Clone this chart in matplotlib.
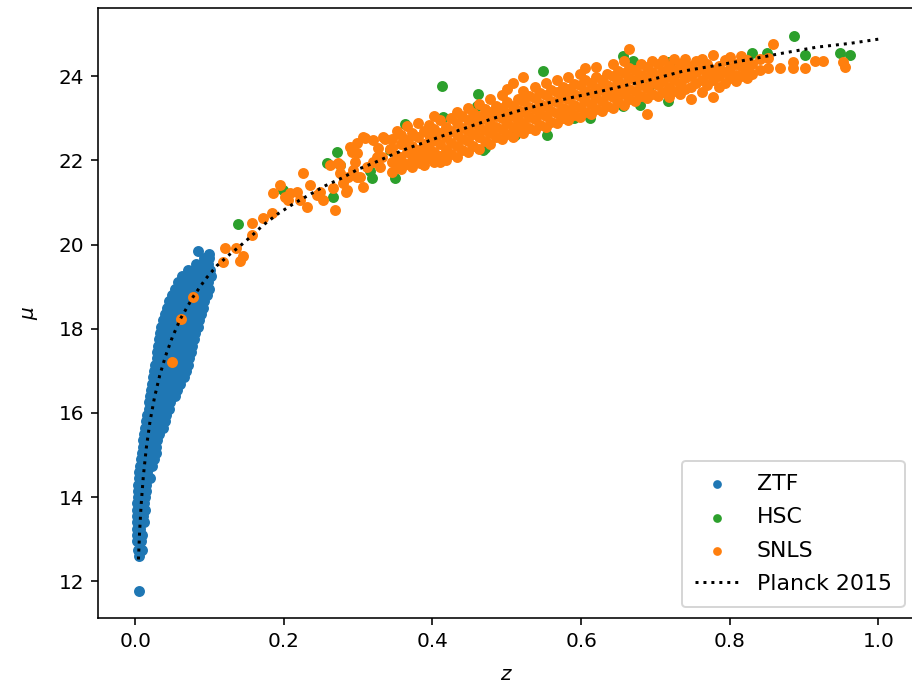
import matplotlib
matplotlib.use("Agg")
import matplotlib.pyplot as plt

# ZTF: low-z sample, one row of redshifts per distance-modulus level
ztf_row_mu = [19.85, 19.78, 19.68, 19.55, 19.40, 19.25, 19.10, 18.95, 18.80, 18.65,
              18.50, 18.35, 18.20, 18.05, 17.90, 17.75, 17.60, 17.45, 17.30, 17.15,
              17.00, 16.85, 16.70, 16.55, 16.40, 16.25, 16.10, 15.95, 15.80, 15.65,
              15.50, 15.35, 15.20, 15.05, 14.90, 14.75, 14.60, 14.45, 14.30, 14.15,
              14.00, 13.85, 13.70, 13.55, 13.40, 13.25, 13.10, 12.95, 12.75, 12.60,
              11.78]
ztf_row_z = [
    [0.085],
    [0.100],
    [0.093, 0.099],
    [0.082, 0.090, 0.098],
    [0.071, 0.079, 0.087, 0.095, 0.101],
    [0.063, 0.071, 0.079, 0.087, 0.095, 0.102],
    [0.058, 0.066, 0.074, 0.082, 0.090, 0.098],
    [0.054, 0.062, 0.070, 0.078, 0.086, 0.094, 0.100],
    [0.050, 0.058, 0.066, 0.074, 0.082, 0.090, 0.097],
    [0.046, 0.054, 0.062, 0.070, 0.078, 0.086, 0.093],
    [0.043, 0.051, 0.059, 0.067, 0.075, 0.083, 0.091],
    [0.040, 0.048, 0.056, 0.064, 0.072, 0.080, 0.089],
    [0.037, 0.045, 0.053, 0.061, 0.069, 0.077, 0.086],
    [0.035, 0.043, 0.051, 0.059, 0.067, 0.075, 0.084],
    [0.033, 0.041, 0.049, 0.057, 0.065, 0.073, 0.081],
    [0.032, 0.040, 0.048, 0.056, 0.064, 0.071, 0.079],
    [0.031, 0.039, 0.047, 0.055, 0.063, 0.070, 0.077],
    [0.030, 0.038, 0.046, 0.054, 0.062, 0.069, 0.075],
    [0.029, 0.037, 0.045, 0.053, 0.061, 0.069, 0.073],
    [0.027, 0.035, 0.043, 0.051, 0.059, 0.066, 0.071],
    [0.026, 0.034, 0.042, 0.050, 0.058, 0.064, 0.069],
    [0.024, 0.032, 0.040, 0.048, 0.055, 0.062, 0.066],
    [0.023, 0.031, 0.039, 0.046, 0.053, 0.060],
    [0.021, 0.029, 0.037, 0.044, 0.051, 0.056],
    [0.020, 0.028, 0.036, 0.043, 0.050, 0.053],
    [0.019, 0.026, 0.034, 0.041, 0.047],
    [0.018, 0.025, 0.032, 0.039, 0.045],
    [0.016, 0.023, 0.030, 0.037, 0.042],
    [0.015, 0.022, 0.029, 0.036, 0.040],
    [0.013, 0.020, 0.027, 0.034, 0.038],
    [0.012, 0.019, 0.026, 0.032],
    [0.011, 0.017, 0.024, 0.030],
    [0.010, 0.016, 0.022, 0.028],
    [0.009, 0.015, 0.021, 0.028],
    [0.008, 0.014, 0.020, 0.025],
    [0.007, 0.012, 0.018, 0.023],
    [0.005, 0.010, 0.016],
    [0.005, 0.010, 0.015, 0.020],
    [0.004, 0.009, 0.014],
    [0.004, 0.009, 0.014],
    [0.004, 0.008, 0.013],
    [0.003, 0.008, 0.012],
    [0.003, 0.007, 0.013],
    [0.003, 0.007, 0.011],
    [0.003, 0.008, 0.012],
    [0.002, 0.007],
    [0.003, 0.009],
    [0.003, 0.008],
    [0.004, 0.009],
    [0.005],
    [0.005],
]

# HSC
hsc_z = [0.139, 0.199, 0.272, 0.258, 0.266, 0.316, 0.319, 0.343, 0.350, 0.413,
         0.549, 0.656, 0.670, 0.718, 0.461, 0.460, 0.363, 0.414, 0.511, 0.554,
         0.591, 0.612, 0.468, 0.656, 0.679, 0.689, 0.887, 0.901, 0.948, 0.962,
         0.830, 0.850, 0.720, 0.693, 0.276, 0.471, 0.717]
hsc_mu = [20.48, 21.30, 22.19, 21.94, 21.13, 21.75, 21.58, 22.25, 21.58, 23.76,
          24.12, 24.48, 24.36, 24.34, 23.57, 23.29, 22.86, 23.03, 22.60, 22.60,
          23.00, 23.00, 22.24, 23.29, 23.31, 23.76, 24.95, 24.50, 24.55, 24.50,
          24.55, 24.55, 24.34, 23.79, 21.90, 22.30, 23.40]

# SNLS: loose points
snls_z = [0.050, 0.061, 0.078,
          0.118, 0.121, 0.136, 0.141, 0.145, 0.157, 0.157, 0.172, 0.184, 0.186,
          0.195, 0.202, 0.208, 0.218, 0.226, 0.222, 0.235, 0.231, 0.245, 0.253,
          0.249, 0.269, 0.266, 0.273, 0.280, 0.285, 0.276, 0.289, 0.298, 0.298,
          0.307, 0.307, 0.293, 0.303, 0.312, 0.320, 0.325, 0.334, 0.330, 0.206,
          0.276, 0.283, 0.287, 0.292, 0.296, 0.298, 0.309, 0.320, 0.327, 0.332,
          0.336, 0.343, 0.352, 0.356, 0.363, 0.373, 0.374, 0.383, 0.386, 0.397,
          0.400, 0.410, 0.407, 0.262]
snls_mu = [17.20, 18.24, 18.76,
           19.59, 19.92, 19.92, 19.62, 19.73, 20.52, 20.23, 20.64, 20.75, 21.23,
           21.42, 21.13, 21.23, 21.25, 21.70, 21.06, 21.42, 20.90, 21.18, 21.06,
           21.25, 20.83, 21.35, 21.94, 21.47, 21.30, 21.70, 22.32, 22.18, 22.42,
           22.56, 21.37, 21.77, 21.61, 21.85, 22.49, 22.08, 22.56, 21.85, 21.06,
           21.89, 21.25, 21.60, 22.20, 21.95, 21.60, 22.53, 21.96, 22.30, 22.08,
           22.50, 22.28, 21.85, 22.08, 22.42, 21.96, 22.60, 21.94, 22.30, 22.18,
           22.45, 21.96, 22.62, 21.90]

# SNLS: dense band, one column of distance moduli per redshift
snls_col_z = [0.345, 0.352, 0.358, 0.366, 0.372, 0.380, 0.388, 0.395, 0.402, 0.410,
              0.418, 0.425, 0.433, 0.440, 0.448, 0.455, 0.463, 0.470, 0.478, 0.485,
              0.493, 0.500, 0.508, 0.515, 0.522, 0.530, 0.538, 0.545, 0.553, 0.560,
              0.568, 0.575, 0.583, 0.590, 0.598, 0.605, 0.613, 0.620, 0.628, 0.635,
              0.643, 0.650, 0.658, 0.665, 0.673, 0.680, 0.688, 0.695, 0.703, 0.710,
              0.718, 0.725, 0.733, 0.740, 0.748, 0.755, 0.763, 0.770, 0.778, 0.785,
              0.793, 0.800, 0.808, 0.815, 0.823, 0.830, 0.841, 0.851, 0.858, 0.868,
              0.885, 0.901, 0.915, 0.925, 0.952, 0.955]
snls_col_mu = [
    [21.72, 21.95, 22.30, 22.52], [22.10, 22.70], [21.80, 22.02, 22.40, 22.60],
    [21.92, 22.20, 22.48, 22.82], [21.85, 22.10, 22.35, 22.65],
    [22.00, 22.25, 22.55, 22.90], [21.90, 22.15, 22.40, 22.70],
    [22.05, 22.30, 22.60, 22.85], [21.95, 22.20, 22.50, 22.75, 23.05],
    [22.10, 22.38, 22.65, 22.95], [22.00, 22.25, 22.55, 22.80],
    [22.15, 22.42, 22.70, 23.00], [22.08, 22.35, 22.60, 22.88, 23.15],
    [22.25, 22.50, 22.78, 23.05], [22.20, 22.45, 22.70, 22.95, 23.25],
    [22.35, 22.62, 22.88, 23.12], [22.28, 22.55, 22.80, 23.05, 23.35],
    [22.45, 22.72, 22.98, 23.22], [22.40, 22.65, 22.90, 23.15, 23.45],
    [22.55, 22.80, 23.05, 23.30], [22.50, 22.75, 23.00, 23.25, 23.55],
    [22.62, 22.88, 23.12, 23.38, 23.70], [22.55, 22.80, 23.05, 23.30, 23.83],
    [22.70, 22.95, 23.20, 23.45], [22.65, 22.90, 23.15, 23.40, 23.65, 23.98],
    [22.78, 23.02, 23.28, 23.52], [22.72, 22.98, 23.22, 23.48, 23.75],
    [22.85, 23.10, 23.35, 23.60], [22.80, 23.05, 23.30, 23.55, 23.85],
    [22.92, 23.18, 23.42, 23.68], [22.88, 23.12, 23.38, 23.62, 23.90],
    [23.00, 23.25, 23.50, 23.75], [22.95, 23.20, 23.45, 23.70, 23.98],
    [23.08, 23.32, 23.58, 23.82], [23.02, 23.28, 23.52, 23.78, 24.05],
    [23.15, 23.40, 23.65, 23.90, 24.19], [23.10, 23.35, 23.60, 23.85],
    [23.22, 23.48, 23.72, 23.98, 24.22], [23.18, 23.42, 23.68, 23.92],
    [23.30, 23.55, 23.80, 24.05], [23.25, 23.50, 23.75, 24.00, 24.28],
    [23.38, 23.62, 23.88, 24.12], [23.32, 23.58, 23.82, 24.08, 24.35],
    [23.45, 23.70, 23.95, 24.20, 24.64], [23.40, 23.65, 23.90, 24.15],
    [23.52, 23.78, 24.02, 24.28], [23.10, 23.48, 23.72, 23.98, 24.22],
    [23.58, 23.85, 24.10, 24.35], [23.52, 23.78, 24.02, 24.28],
    [23.62, 23.88, 24.12, 24.38], [23.50, 23.75, 24.00, 24.25],
    [23.65, 23.90, 24.15, 24.40], [23.58, 23.82, 24.08, 24.30],
    [23.70, 23.95, 24.20, 24.42], [23.45, 23.75, 24.00, 24.25],
    [23.85, 24.10, 24.35], [23.62, 23.92, 24.18, 24.40], [23.80, 24.05, 24.30],
    [23.50, 23.90, 24.15, 24.50], [23.75, 24.00, 24.25], [23.85, 24.10, 24.38],
    [23.95, 24.20, 24.45], [23.88, 24.02, 24.30], [24.00, 24.25, 24.48],
    [23.95, 24.15, 24.38], [24.05, 24.30], [24.14, 24.40], [24.20, 24.43],
    [24.76], [24.19], [24.19, 24.33], [24.19], [24.36], [24.36], [24.33], [24.21],
]

# Planck 2015 distance modulus curve
planck_z = [0.0044, 0.006, 0.008, 0.011, 0.015, 0.020, 0.026, 0.033, 0.041, 0.050,
            0.061, 0.078, 0.095, 0.110, 0.128, 0.140, 0.155, 0.172, 0.192, 0.213,
            0.234, 0.256, 0.278, 0.300, 0.321, 0.344, 0.367, 0.390, 0.413, 0.448,
            0.482, 0.518, 0.554, 0.589, 0.626, 0.662, 0.697, 0.737, 0.783, 0.827,
            0.872, 0.917, 0.962, 1.000]
planck_mu = [12.52, 13.19, 13.81, 14.50, 15.17, 15.80, 16.37, 16.89, 17.36, 17.80,
             18.24, 18.76, 19.19, 19.50, 19.78, 19.95, 20.18, 20.46, 20.73, 20.97,
             21.18, 21.40, 21.58, 21.79, 21.94, 22.12, 22.29, 22.43, 22.58, 22.79,
             23.00, 23.19, 23.36, 23.50, 23.64, 23.79, 23.93, 24.12, 24.26, 24.40,
             24.55, 24.69, 24.78, 24.88]

ztf_z = [z for row in ztf_row_z for z in row]
ztf_mu = [mu for mu, row in zip(ztf_row_mu, ztf_row_z) for _ in row]

snls_all_z = snls_z + [z for z, col in zip(snls_col_z, snls_col_mu) for _ in col]
snls_all_mu = snls_mu + [mu for col in snls_col_mu for mu in col]

fig = plt.figure(figsize=(912 / 144, 687 / 144), dpi=144)
ax = fig.add_axes([98 / 912, 69 / 687, 817.6 / 912, 610 / 687])

ax.scatter(ztf_z, ztf_mu, s=20, color="C0", label="ZTF")
ax.scatter(hsc_z, hsc_mu, s=20, color="C2", label="HSC")
ax.scatter(snls_all_z, snls_all_mu, s=20, color="C1", label="SNLS")
ax.plot(planck_z, planck_mu, "k:", label="Planck 2015")

ax.set_xlim(-0.05, 1.05)
ax.set_ylim(11.13, 25.62)
ax.set_xlabel("$z$", labelpad=7)
ax.set_ylabel("$\\mu$", labelpad=9)
ax.legend(loc="lower right", fontsize=11, labelspacing=0.6, handlelength=2.0,
          borderpad=0.6, markerscale=0.75)

fig.savefig("out.png", dpi=144)
